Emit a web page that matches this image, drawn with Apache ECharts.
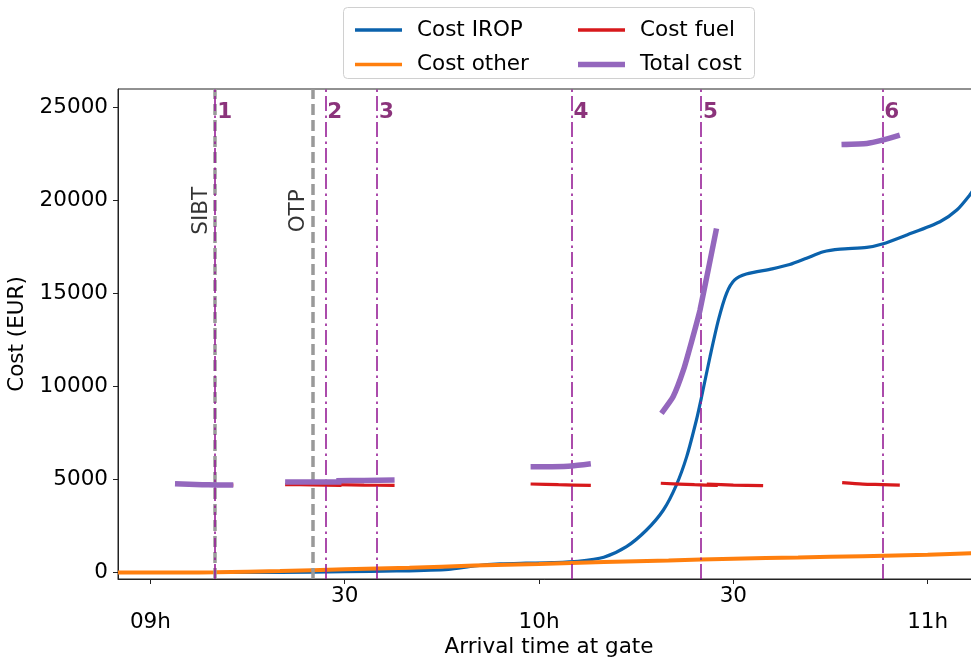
<!DOCTYPE html>
<html>
<head>
<meta charset="utf-8">
<script src="https://cdn.jsdelivr.net/npm/echarts@6/dist/echarts.min.js"></script>
<style>
  html, body { margin: 0; padding: 0; background: #fff; }
  #chart { width: 971px; height: 661px; }
</style>
</head>
<body>
<div id="chart"></div>
<script>
// x values are minutes after 09:00
const hourTicks = [0, 60, 120];
const hourLabels = ['09h', '10h', '11h'];
const halfTicks = [30, 90];
const halfLabel = '30';
const yTicks = [0, 5000, 10000, 15000, 20000, 25000];

// Cost curves over the arrival window
const costIrop = [[-5, 0], [10, 0], [20, 10], [30, 40], [38, 80], [46, 170], [50, 350], [54, 460],
  [58, 500], [62, 530], [66, 600], [70, 820], [73.5, 1390], [76.6, 2285], [79.2, 3360], [81.2, 4700],
  [82.8, 6230], [84.3, 8200], [85.1, 9450], [86.4, 11600], [87.7, 13580], [88.95, 15010], [90.2, 15730],
  [92, 16050], [96, 16330], [98.7, 16560], [101.3, 16900], [103.9, 17250], [106.5, 17390], [110.6, 17480],
  [113, 17660], [116.8, 18150], [121.9, 18860], [124.5, 19490], [126.5, 20300], [127.5, 20800]];
const costOther = [[-5, 0], [5, 0], [10, 10], [20, 80], [30, 170], [40, 260], [50, 370], [60, 460],
  [70, 560], [80, 650], [90, 740], [100, 810], [110, 880], [120, 950], [127.5, 1050]];

// Fuel cost around each candidate arrival
const fuel1 = [[3.8, 4770], [8, 4720], [12.8, 4700]];
const fuel2 = [[20.8, 4730], [25, 4710], [29.5, 4690]];
const fuel3 = [[28.7, 4730], [33, 4700], [37.7, 4680]];
const fuel4 = [[58.7, 4760], [63, 4720], [68, 4680]];
const fuel5a = [[78.8, 4800], [84, 4720], [87.6, 4680]];
const fuel5b = [[85.9, 4760], [90, 4700], [94.6, 4670]];
const fuel6 = [[106.8, 4830], [110, 4750], [113, 4730], [115.7, 4700]];

// Total cost around each candidate arrival
const total1 = [[3.8, 4775], [8, 4720], [10, 4705], [12.8, 4700]];
const total2 = [[20.8, 4870], [25, 4860], [29.5, 4860]];
const total3 = [[28.7, 4940], [33, 4950], [37.7, 4980]];
const total4 = [[58.7, 5680], [62, 5690], [65, 5730], [68, 5850]];
const total5 = [[78.9, 8560], [80.7, 9450], [82.3, 10890], [83.55, 12410], [84.85, 14110], [87.4, 18500]];
const total6 = [[106.7, 23020], [110.6, 23075], [113, 23250], [115.7, 23520]];

// Candidate arrival times and their labels
const candTimes = [10, 27, 35, 65, 85, 113];
const candLabels = ['1', '2', '3', '4', '5', '6'];
const candLabelCost = 24730;

// Reference times (scheduled in-block, on-time performance)
const refTimes = [10, 25];
const refNames = ['SIBT', 'OTP'];
const refLabelCost = 19450;

const FONT = 'DejaVu Sans';
const FS = 21.5;
const C_IROP = '#0b62ac', C_OTHER = '#ff7f0e', C_FUEL = '#d7191c', C_TOTAL = '#9467bd';

const chart = echarts.init(document.getElementById('chart'), null, { renderer: 'canvas' });

function seg(name, data, color, width, z, smooth) {
  return {
    name, type: 'line', data, xAxisIndex: 0, yAxisIndex: 0,
    symbol: 'none', showSymbol: false, smooth, z,
    lineStyle: { color, width, cap: 'butt' }, itemStyle: { color },
    emphasis: { disabled: true }, silent: true, animation: false
  };
}

const series = [
  seg('Cost IROP', costIrop, C_IROP, 3.2, 2, 0.25),
  seg('Cost other', costOther, C_OTHER, 4, 3, 0.25),
  ...[fuel1, fuel2, fuel3, fuel4, fuel5a, fuel5b, fuel6].map(d => seg('Cost fuel', d, C_FUEL, 3.2, 4, 0.25)),
  ...[total1, total2, total3, total4, total5, total6].map(d => seg('Total cost', d, C_TOTAL, 5.5, 5, 0.15)),
  {
    name: 'ref', type: 'scatter', symbolSize: 0, z: 6, silent: true, animation: false,
    data: refTimes.map((t, i) => ({ name: refNames[i], value: [t, refLabelCost] })),
    label: {
      show: true, position: 'inside', rotate: 90, offset: [0, -13.5],
      formatter: p => p.name, color: '#000', fontFamily: FONT, fontSize: FS
    },
    markLine: {
      silent: true, symbol: ['none', 'none'], animation: false,
      label: { show: false },
      lineStyle: { color: '#999999', width: 3.5, type: [11, 5] },
      data: refTimes.map(t => ({ xAxis: t }))
    }
  },
  {
    name: 'cand', type: 'scatter', symbolSize: 0, z: 7, silent: true, animation: false,
    data: candTimes.map((t, i) => ({ name: candLabels[i], value: [t, candLabelCost] })),
    label: {
      show: true, position: 'right', distance: 2,
      formatter: p => p.name, color: '#6e005a', fontFamily: FONT, fontSize: FS, fontWeight: 'bold'
    },
    markLine: {
      silent: true, symbol: ['none', 'none'], animation: false,
      label: { show: false },
      lineStyle: { color: 'rgba(150,30,150,0.8)', width: 2, type: [15, 4, 2.5, 4.5] },
      data: candTimes.map(t => ({ xAxis: t }))
    }
  }
];

const legendText = { color: '#000', fontFamily: FONT, fontSize: FS, padding: [0, 0, 0, 10] };
const lineIcon = h => 'path://M0,0H47V' + h + 'H0Z';

chart.setOption({
  animation: false,
  backgroundColor: '#fff',
  textStyle: { fontFamily: FONT },
  grid: {
    left: 118, top: 89, right: -2, bottom: 82,
    show: true, borderColor: '#222', borderWidth: 1,
    containLabel: false, outerBoundsMode: 'none'
  },
  legend: [
    {
      left: 355, top: 19, orient: 'vertical', padding: 0, itemGap: 12.5,
      itemWidth: 47, itemHeight: 14, textStyle: legendText, selectedMode: false,
      data: [
        { name: 'Cost IROP', icon: lineIcon(3.5) },
        { name: 'Cost other', icon: lineIcon(3.5) }
      ]
    },
    {
      left: 578, top: 19, orient: 'vertical', padding: 0, itemGap: 12.5,
      itemWidth: 47, itemHeight: 14, textStyle: legendText, selectedMode: false,
      data: [
        { name: 'Cost fuel', icon: lineIcon(3.5) },
        { name: 'Total cost', icon: lineIcon(5.5) }
      ]
    }
  ],
  graphic: [{
    type: 'rect', left: 343, top: 7, z: -1, silent: true,
    shape: { width: 411, height: 71, r: 4 },
    style: { fill: '#fff', stroke: '#d0d0d0', lineWidth: 1 }
  }],
  xAxis: [
    {
      type: 'value', min: -5, max: 127, position: 'bottom',
      splitLine: { show: false },
      axisLine: { show: true, onZero: false, lineStyle: { color: '#222', width: 1 } },
      axisTick: { show: true, length: 5, customValues: hourTicks.concat(halfTicks), lineStyle: { color: '#222' } },
      axisLabel: {
        show: true, customValues: halfTicks, formatter: () => halfLabel, margin: 6,
        color: '#000', fontFamily: FONT, fontSize: FS
      },
      name: 'Arrival time at gate', nameLocation: 'middle', nameGap: 57,
      nameTextStyle: { color: '#000', fontFamily: FONT, fontSize: FS, padding: [0, 0, 0, 7] }
    },
    {
      type: 'value', min: -5, max: 127, position: 'bottom', offset: 0,
      splitLine: { show: false },
      axisLine: { show: false }, axisTick: { show: false },
      axisLabel: {
        show: true, customValues: hourTicks, margin: 32,
        formatter: v => hourLabels[hourTicks.indexOf(v)] || '',
        color: '#000', fontFamily: FONT, fontSize: FS
      }
    }
  ],
  yAxis: {
    type: 'value', min: -350, max: 26000,
    splitLine: { show: false },
    axisLine: { show: true, onZero: false, lineStyle: { color: '#222', width: 1 } },
    axisTick: { show: true, length: 5, customValues: yTicks, lineStyle: { color: '#222' } },
    axisLabel: {
      show: true, customValues: yTicks, margin: 10, formatter: v => String(v),
      color: '#000', fontFamily: FONT, fontSize: FS
    },
    name: 'Cost (EUR)', nameLocation: 'middle', nameGap: 61,
    nameTextStyle: { color: '#000', fontFamily: FONT, fontSize: FS }
  },
  series
});
</script>
</body>
</html>
